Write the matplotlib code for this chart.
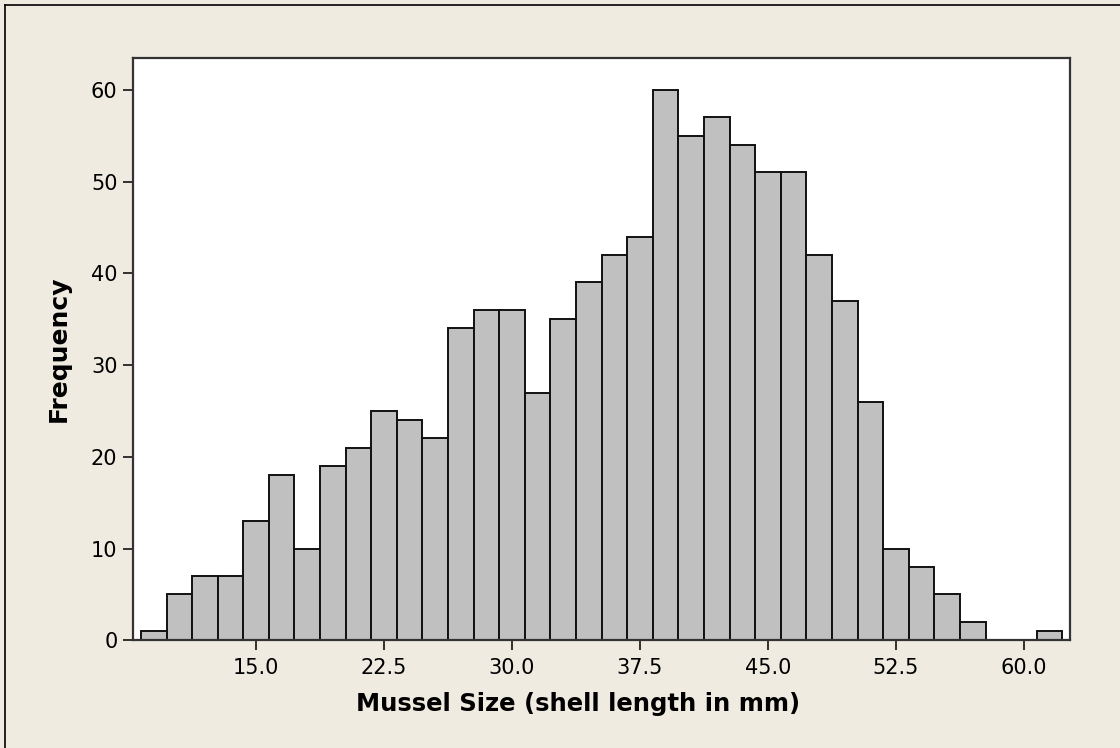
import matplotlib
matplotlib.use("Agg")
from matplotlib import pyplot as plt
import numpy as np

# bin centres (mm), bin width 1.5
bin_width = 1.5
bin_centers = np.arange(9.0, 61.6, bin_width)
frequency = [1, 5, 7, 7, 13, 18, 10, 19, 21, 25, 24, 22,
             34, 36, 36, 27, 35, 39, 42, 44, 60, 55, 57, 54,
             51, 51, 42, 37, 26, 10, 8, 5, 2, 0, 0, 1]
x_ticks = [15.0, 22.5, 30.0, 37.5, 45.0, 52.5, 60.0]
y_ticks = [0, 10, 20, 30, 40, 50, 60]

bg = "#EFEBE1"
plt.rcParams["font.family"] = "DejaVu Sans"

fig = plt.figure(figsize=(11.2, 7.48), dpi=100, facecolor=bg)
ax = fig.add_axes([0.1185, 0.144, 0.8369, 0.7789])

ax.bar(bin_centers, frequency, width=bin_width, color="#C0C0C0",
       edgecolor="#111111", linewidth=1.4)

ax.set_xlim(7.77, 62.7)
ax.set_ylim(0, 63.5)
ax.set_xticks(x_ticks)
ax.set_xticklabels(["{:.1f}".format(t) for t in x_ticks])
ax.set_yticks(y_ticks)
ax.tick_params(direction="out", length=7, width=1.3, color="#222222",
               labelsize=15, pad=4)
ax.tick_params(axis="x", pad=6)

for side in ax.spines.values():
    side.set_linewidth(1.6)
    side.set_color("#333333")

ax.set_xlabel("Mussel Size (shell length in mm)", fontsize=17.5,
              fontweight="bold")
ax.xaxis.set_label_coords(0.475, -0.088)
ax.set_ylabel("Frequency", fontsize=18, fontweight="bold")
ax.yaxis.set_label_coords(-0.066, 0.5)

# outer frame lines (top and left)
fig.add_artist(plt.Line2D([5 / 1120, 1], [1 - 5 / 748, 1 - 5 / 748],
                          transform=fig.transFigure, color="black", lw=1.2))
fig.add_artist(plt.Line2D([5 / 1120, 5 / 1120], [0, 1 - 5 / 748],
                          transform=fig.transFigure, color="black", lw=1.2))

fig.savefig("out.png", dpi=100, facecolor=bg)
